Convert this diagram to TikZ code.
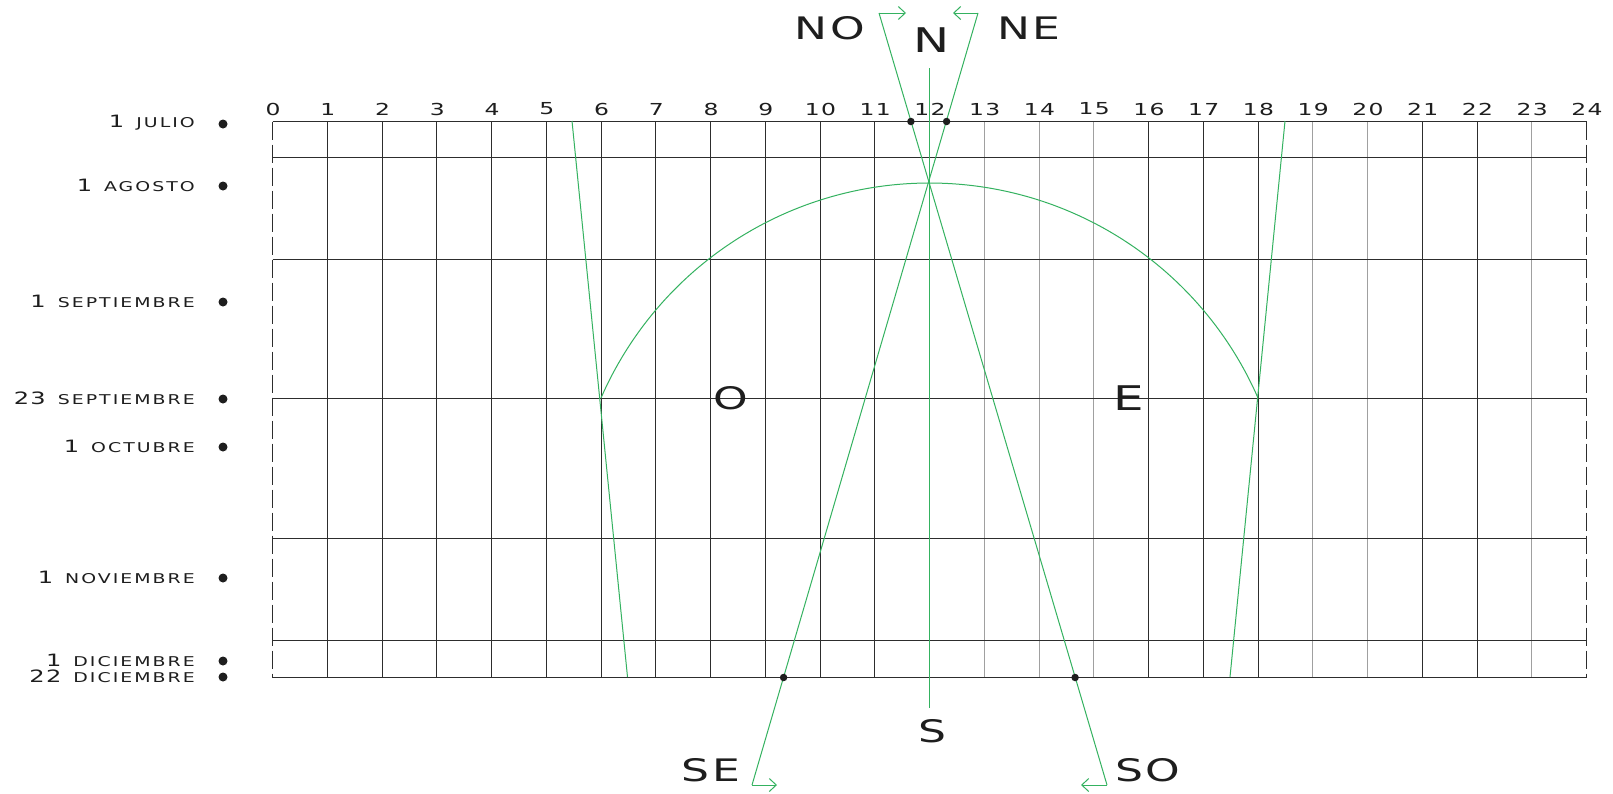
\documentclass[tikz,border=0pt]{standalone}
\usepackage{fontspec}
\newfontfamily\ef[FakeStretch=1.42,LetterSpace=8]{DejaVu Sans}
\newfontfamily\lf[FakeStretch=1.4,LetterSpace=15]{DejaVu Sans}
\usetikzlibrary{arrows.meta,calc}
\definecolor{gline}{RGB}{52,178,96}
\definecolor{dline}{RGB}{45,45,45}
\definecolor{lgray}{RGB}{160,160,160}
\definecolor{txt}{RGB}{30,30,30}
\newcommand\datelab[2]{{\ef\fontsize{17}{18}\selectfont #1}\hspace{12pt}{\lf\fontsize{13.5}{15}\selectfont #2}}
\begin{document}
\begin{tikzpicture}[x=1pt,y=-1pt,
  gridblack/.style={draw=dline,line width=1.2pt},
  gridgray/.style={draw=lgray,line width=1.4pt},
  border/.style={draw=dline,line width=1.2pt,dash pattern=on 18pt off 5pt},
  sunline/.style={draw=gline,line width=1pt},
  dirarrow/.style={sunline,-{Straight Barb[length=7pt,width=13pt]}},
  hourlab/.style={font=\ef\fontsize{16.5}{18}\selectfont,text=txt,inner sep=0pt},
  datelabel/.style={text=txt,inner sep=0pt,anchor=east},
  big/.style={font=\ef\fontsize{31}{36}\selectfont,text=txt,inner sep=0pt},
  bigdot/.style={circle,fill=txt,inner sep=0pt,minimum size=9pt}
]
\useasboundingbox[fill=white] (0,0) rectangle (1613,793);

% grid
\foreach \h in {1,...,11,16,17,18,21,22}{
  \pgfmathsetmacro{\xx}{round(272+54.75*\h)+0.5}
  \draw[gridblack] (\xx,121.5) -- (\xx,677.5);}
\foreach \h in {13,14,15,19,20,23}{
  \pgfmathsetmacro{\xx}{round(272+54.75*\h)+0.5}
  \draw[gridgray] (\xx,121.5) -- (\xx,677.5);}
\foreach \y in {121.5,157.5,259.5,398.5,538.5,640.5,677.5}
  \draw[gridblack] (272.5,\y) -- (1586.5,\y);
\draw[border] (272.5,121.5) -- (272.5,677.5);
\draw[border] (1586.5,121.5) -- (1586.5,677.5);

% hour labels
\foreach \h in {0,...,24}
  \node[hourlab] (h\h) at ({272+54.75*\h+1},109) {\h};

% date labels
\foreach \n/\a/\b/\y in {jul/1/JULIO/123, ago/1/AGOSTO/185, sep/1/SEPTIEMBRE/301,
   equ/23/SEPTIEMBRE/398, oct/1/OCTUBRE/446, nov/1/NOVIEMBRE/577,
   dic/1/DICIEMBRE/660, sol/22/DICIEMBRE/676}{
  \node[datelabel] (l\n) at (195,\y) {\datelab{\a}{\b}};
  \node[bigdot] (d\n) at (223,{\y+1}) {};
}

% green sun lines
\coordinate (nA) at (879,13);
\coordinate (sA) at (1107,785);
\coordinate (nB) at (978,13);
\coordinate (sB) at (752,785);
\coordinate (ntop) at (929.5,68);
\coordinate (sbot) at (929.5,708);
\draw[sunline] (ntop) -- (sbot);
\draw[sunline] (nA) -- (sA);
\draw[sunline] (nB) -- (sB);
\draw[dirarrow] (nA) -- (906,13);
\draw[dirarrow] (nB) -- (953,13);
\draw[dirarrow] (sB) -- (777,785);
\draw[dirarrow] (sA) -- (1081,785);
\coordinate (m6a) at (572,121);
\coordinate (m6b) at (627.5,677);
\coordinate (m18a) at (1285,121);
\coordinate (m18b) at (1230,677);
\draw[sunline] (m6a) -- (m6b);
\draw[sunline] (m18a) -- (m18b);
\draw[sunline] plot[domain=23.6:156.4,samples=90,smooth] ({929.5+358.5*cos(\x)},{541.5-358.5*sin(\x)});

% dots on crossings
\node[bigdot,minimum size=7.5pt] (pA1) at (910.9,121.5) {};
\node[bigdot,minimum size=7.5pt] (pB1) at (946.6,121.5) {};
\node[bigdot,minimum size=7.5pt] (pA2) at (1075.1,677.5) {};
\node[bigdot,minimum size=7.5pt] (pB2) at (783.6,677.5) {};

% directions
\node[big] (tNO) at (830,28) {NO};
\node[big,font=\ef\fontsize{34}{36}\selectfont] (tN) at (932,40) {N};
\node[big] (tNE) at (1029,28) {NE};
\node[big] (tO) at (731,398) {O};
\node[big,font=\ef\fontsize{34}{36}\selectfont] (tE) at (1129,398) {E};
\node[big] (tS) at (932,731) {S};
\node[big] (tSE) at (711,770) {SE};
\node[big] (tSO) at (1148,770) {SO};
\end{tikzpicture}
\end{document}
